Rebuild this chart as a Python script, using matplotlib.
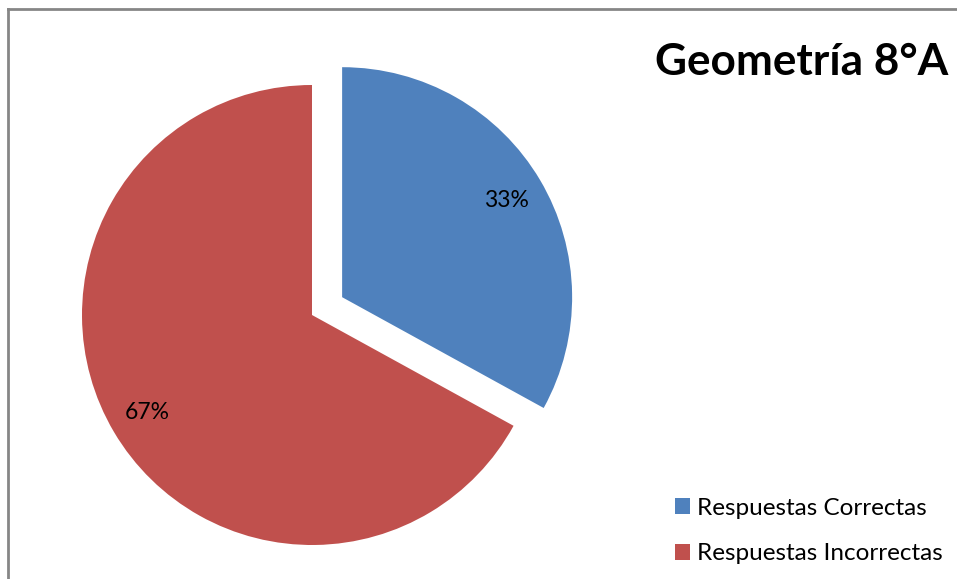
import matplotlib
matplotlib.use("Agg")
import matplotlib.pyplot as plt
from matplotlib.patches import Patch
from matplotlib.lines import Line2D

categories = ["Respuestas Correctas", "Respuestas Incorrectas"]
values = [33, 67]
colors = ["#4F81BD", "#C0504D"]
title = "Geometría 8°A"

W, H = 957, 579
plt.rcParams["font.family"] = ["Lato", "DejaVu Sans"]

fig = plt.figure(figsize=(W / 100, H / 100), dpi=100)
ax = fig.add_axes([0, 0, 1, 1])

# pie drawn in pixel-like data units (y up)
center = (312, H - 315)
radius = 230
wedges, texts, autotexts = ax.pie(
    values,
    colors=colors,
    startangle=90,
    counterclock=False,
    center=center,
    radius=radius,
    explode=[35, 0],
    autopct="%1.0f%%",
    pctdistance=0.83,
    textprops={"fontsize": 16.5, "color": "black"},
    wedgeprops={"linewidth": 0},
)
ax.set_xlim(0, W)
ax.set_ylim(0, H)
ax.set_aspect("equal")
ax.axis("off")

# chart frame: top and left edges
fig.add_artist(Line2D([8 / W, 8 / W], [0, 1 - 9 / H], transform=fig.transFigure,
                      color="#868686", linewidth=2))
fig.add_artist(Line2D([8 / W, 1], [1 - 9 / H, 1 - 9 / H], transform=fig.transFigure,
                      color="#868686", linewidth=2))

fig.text(655 / W, 1 - 75 / H, title, fontsize=31.8, fontweight="bold",
         ha="left", va="baseline")

handles = [Patch(facecolor=c, edgecolor="none") for c in colors]
fig.legend(handles, categories, loc="center left",
           bbox_to_anchor=(675 / W, 1 - 531 / H), frameon=False,
           fontsize=17.5, handlelength=0.62, handleheight=0.62,
           handletextpad=0.3, labelspacing=1.02,
           borderpad=0, borderaxespad=0)

fig.savefig("out.png", dpi=100)
